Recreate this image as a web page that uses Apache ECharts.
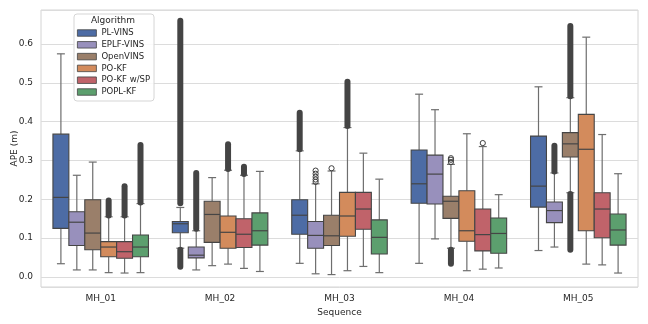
<!DOCTYPE html>
<html>
<head>
<meta charset="utf-8">
<script src="https://cdn.jsdelivr.net/npm/echarts@6/dist/echarts.min.js"></script>
<style>html,body{margin:0;padding:0;background:#fff;}#c{width:648px;height:324px;}</style>
</head>
<body>
<div id="c"></div>
<script>
// Categories and algorithms
const sequences = ['MH_01', 'MH_02', 'MH_03', 'MH_04', 'MH_05'];
const algorithms = ['PL-VINS', 'EPLF-VINS', 'OpenVINS', 'PO-KF', 'PO-KF w/SP', 'POPL-KF'];
const yTicks = [0.0, 0.1, 0.2, 0.3, 0.4, 0.5, 0.6];

// Box statistics per sequence: [lower whisker, Q1, median, Q3, upper whisker]
const plVins = [
  [0.034, 0.125, 0.205, 0.368, 0.575],
  [0.074, 0.114, 0.137, 0.143, 0.179],
  [0.035, 0.110, 0.159, 0.199, 0.325],
  [0.035, 0.190, 0.240, 0.327, 0.471],
  [0.068, 0.180, 0.234, 0.363, 0.490]
];
const eplfVins = [
  [0.018, 0.081, 0.141, 0.168, 0.262],
  [0.018, 0.049, 0.056, 0.077, 0.119],
  [0.008, 0.074, 0.107, 0.143, 0.240],
  [0.098, 0.188, 0.265, 0.314, 0.431],
  [0.077, 0.140, 0.171, 0.193, 0.268]
];
const openVins = [
  [0.018, 0.070, 0.113, 0.199, 0.296],
  [0.029, 0.089, 0.161, 0.195, 0.256],
  [0.006, 0.081, 0.106, 0.159, 0.273],
  [0.074, 0.151, 0.195, 0.208, 0.290],
  [0.217, 0.309, 0.343, 0.372, 0.462]
];
const poKf = [
  [0.011, 0.052, 0.077, 0.091, 0.155],
  [0.033, 0.074, 0.115, 0.157, 0.275],
  [0.016, 0.105, 0.157, 0.218, 0.385],
  [0.016, 0.092, 0.119, 0.222, 0.369],
  [0.033, 0.119, 0.329, 0.419, 0.618]
];
const poKfSp = [
  [0.010, 0.048, 0.065, 0.091, 0.155],
  [0.022, 0.076, 0.110, 0.150, 0.262],
  [0.027, 0.123, 0.175, 0.218, 0.319],
  [0.020, 0.067, 0.109, 0.175, 0.336],
  [0.031, 0.101, 0.175, 0.217, 0.367]
];
const poplKf = [
  [0.011, 0.052, 0.077, 0.108, 0.189],
  [0.014, 0.082, 0.119, 0.165, 0.272],
  [0.011, 0.059, 0.102, 0.147, 0.252],
  [0.023, 0.061, 0.112, 0.152, 0.212],
  [0.010, 0.082, 0.121, 0.162, 0.266]
];

// Outliers: dense runs [sequence index, low, high]; single points [sequence index, value, value]
const plVinsOut = [[1, 0.19, 0.66], [1, 0.026, 0.070], [2, 0.329, 0.423]];
const eplfVinsOut = [[1, 0.124, 0.268], [4, 0.272, 0.338],
  [2, 0.245, 0.245], [2, 0.251, 0.251], [2, 0.258, 0.258], [2, 0.266, 0.266], [2, 0.274, 0.274]];
const openVinsOut = [[3, 0.034, 0.070], [4, 0.466, 0.647], [4, 0.070, 0.214],
  [2, 0.280, 0.280], [3, 0.296, 0.296], [3, 0.302, 0.302], [3, 0.306, 0.306]];
const poKfOut = [[0, 0.158, 0.197], [1, 0.278, 0.342], [2, 0.389, 0.503]];
const poKfSpOut = [[0, 0.158, 0.234], [1, 0.265, 0.284], [3, 0.345, 0.345]];
const poplKfOut = [[0, 0.192, 0.340]];

const boxStats = [plVins, eplfVins, openVins, poKf, poKfSp, poplKf];
const outliers = [plVinsOut, eplfVinsOut, openVinsOut, poKfOut, poKfSpOut, poplKfOut];
const colors = ['#4d6ca5', '#9890bc', '#9a7f6a', '#d38b5c', '#c0636a', '#5c9f6e'];

const LINE = '#454545';
const WHISK = '#6e6e6e';
const nAlg = algorithms.length;

function centerX(api, i) {
  const c = api.coord([api.value(0), 0]);
  const bw = api.size([1, 0])[0];
  return { cx: c[0] + (-0.4 + (i + 0.5) * 0.8 / nAlg) * bw, w: bw * 0.8 / nAlg };
}

function boxRender(i) {
  return function (params, api) {
    const p = centerX(api, i);
    const cx = p.cx, w = p.w;
    const idx = api.value(0);
    const y = k => api.coord([idx, api.value(k)])[1];
    const yLow = y(1), yQ1 = y(2), yMed = y(3), yQ3 = y(4), yHigh = y(5);
    const cap = w / 4;
    return {
      type: 'group',
      children: [
        { type: 'line', shape: { x1: cx, y1: yQ3, x2: cx, y2: yHigh }, style: { stroke: WHISK, lineWidth: 1.2 } },
        { type: 'line', shape: { x1: cx, y1: yQ1, x2: cx, y2: yLow }, style: { stroke: WHISK, lineWidth: 1.2 } },
        { type: 'line', shape: { x1: cx - cap, y1: yHigh, x2: cx + cap, y2: yHigh }, style: { stroke: WHISK, lineWidth: 1.2 } },
        { type: 'line', shape: { x1: cx - cap, y1: yLow, x2: cx + cap, y2: yLow }, style: { stroke: WHISK, lineWidth: 1.2 } },
        { type: 'rect', shape: { x: cx - w / 2, y: yQ3, width: w, height: yQ1 - yQ3 },
          style: { fill: colors[i], stroke: LINE, lineWidth: 1.1 } },
        { type: 'line', shape: { x1: cx - w / 2, y1: yMed, x2: cx + w / 2, y2: yMed }, style: { stroke: LINE, lineWidth: 1.2 } }
      ]
    };
  };
}

function outRender(i) {
  return function (params, api) {
    const p = centerX(api, i);
    const idx = api.value(0);
    const lo = api.value(1), hi = api.value(2);
    const yLo = api.coord([idx, lo])[1], yHi = api.coord([idx, hi])[1];
    if (lo === hi) {
      return { type: 'circle', shape: { cx: p.cx, cy: yLo, r: 2.6 },
        style: { fill: 'none', stroke: '#3d3d3d', lineWidth: 1 } };
    }
    return { type: 'line', shape: { x1: p.cx, y1: yLo, x2: p.cx, y2: yHi },
      style: { stroke: '#444444', lineWidth: 6, lineCap: 'round' } };
  };
}

const series = [];
algorithms.forEach((name, i) => {
  series.push({
    name: name,
    type: 'custom',
    renderItem: boxRender(i),
    itemStyle: { color: colors[i] },
    encode: { x: 0, y: [1, 2, 3, 4, 5] },
    data: boxStats[i].map((s, k) => [k].concat(s)),
    z: 2
  });
  series.push({
    name: name + ' outliers',
    type: 'custom',
    renderItem: outRender(i),
    itemStyle: { color: '#3d3d3d' },
    encode: { x: 0, y: [1, 2] },
    data: outliers[i],
    z: 3
  });
});

const chart = echarts.init(document.getElementById('c'), null, { renderer: 'canvas' });
const FONT = 'DejaVu Sans';
chart.setOption({
  animation: false,
  textStyle: { fontFamily: FONT },
  grid: { left: 41, right: 10, top: 10, bottom: 37, show: true, borderColor: '#d4d4d4', borderWidth: 1,
    containLabel: false, outerBoundsMode: 'none' },
  xAxis: {
    type: 'category',
    data: sequences,
    boundaryGap: true,
    axisLine: { show: false },
    axisTick: { show: false },
    splitLine: { show: false },
    axisLabel: { fontSize: 9, color: '#262626', fontFamily: FONT, margin: 7 },
    name: 'Sequence',
    nameLocation: 'middle',
    nameGap: 21,
    nameMoveOverlap: false,
    nameTextStyle: { fontSize: 9, color: '#262626', fontFamily: FONT }
  },
  yAxis: {
    type: 'value',
    min: -0.026,
    max: 0.688,
    splitNumber: 5,
    axisLine: { show: false },
    axisTick: { show: false },
    splitLine: { show: true, lineStyle: { color: '#dcdcdc', width: 1 } },
    axisLabel: {
      fontSize: 9, color: '#262626', fontFamily: FONT, margin: 8,
      showMinLabel: false, showMaxLabel: false,
      formatter: v => {
        const hit = yTicks.find(t => Math.abs(t - v) < 1e-6);
        return hit === undefined ? '' : hit.toFixed(1);
      }
    },
    name: 'APE (m)',
    nameLocation: 'middle',
    nameGap: 22,
    nameMoveOverlap: false,
    nameRotate: 90,
    nameTextStyle: { fontSize: 9, color: '#262626', fontFamily: FONT }
  },
  legend: {
    data: algorithms,
    orient: 'vertical',
    left: 74,
    top: 14,
    padding: [14, 4, 4, 3],
    itemWidth: 19,
    itemHeight: 6.5,
    itemGap: 1.8,
    icon: 'rect',
    itemStyle: { borderColor: '#444', borderWidth: 0.8 },
    textStyle: { fontSize: 8.5, color: '#262626', fontFamily: FONT, lineHeight: 10, padding: [0, 0, 0, 0] },
    backgroundColor: 'rgba(255,255,255,0.85)',
    borderColor: '#d5d5d5',
    borderWidth: 1,
    borderRadius: 3,
    selectedMode: false
  },
  graphic: [{
    type: 'text', x: 113, y: 21, z: 100,
    style: { text: 'Algorithm', textAlign: 'center', textVerticalAlign: 'middle', fontSize: 9, fill: '#262626', fontFamily: FONT }
  }],
  series: series
});
</script>
</body>
</html>
